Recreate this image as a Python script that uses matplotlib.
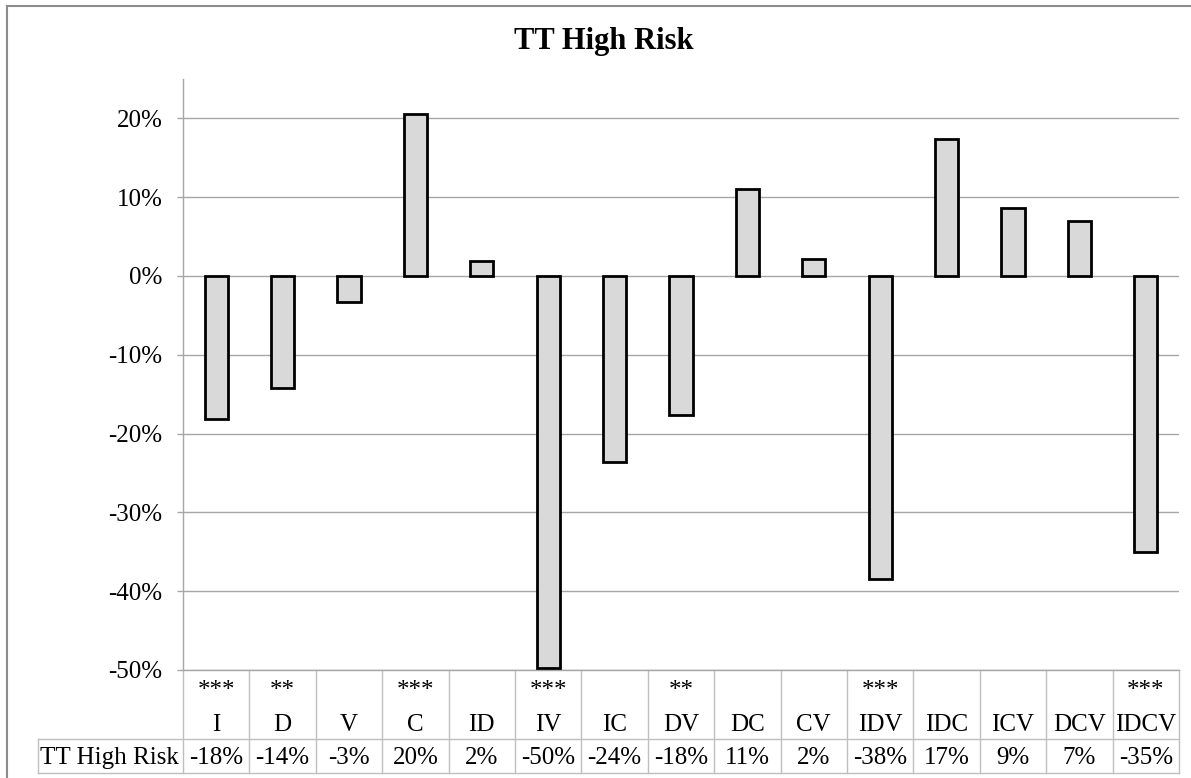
import matplotlib
matplotlib.use("Agg")
import matplotlib.pyplot as plt
import matplotlib.transforms as mtransforms
from matplotlib.lines import Line2D
from matplotlib.ticker import FuncFormatter, MultipleLocator

# data
categories = ["I", "D", "V", "C", "ID", "IV", "IC", "DV", "DC", "CV",
              "IDV", "IDC", "ICV", "DCV", "IDCV"]
significance = ["***", "**", "", "***", "", "***", "", "**", "", "",
                "***", "", "", "", "***"]
tt_high_risk = [-0.182, -0.142, -0.033, 0.205, 0.019, -0.498, -0.236, -0.176,
                0.111, 0.021, -0.384, 0.174, 0.086, 0.070, -0.350]
series_name = "TT High Risk"

W, H = 1191, 778
GRID = "#A6A6A6"
TABLE = "#BFBFBF"

plt.rcParams["font.family"] = ["Liberation Serif", "DejaVu Serif"]


def fx(px):
    return px / W


def fy(py):
    return 1 - py / H


def pct(v):
    v = round(v, 4)
    if abs(v) < 1e-9:
        v = 0.0
    return f"{v:.0%}"


fig = plt.figure(figsize=(W / 100, H / 100), dpi=100)
ax = fig.add_axes([fx(183), fy(670), fx(1179) - fx(183), fy(79) - fy(670)])

x = list(range(len(categories)))
ax.bar(x, tt_high_risk, width=0.35, color="#D9D9D9", edgecolor="black",
       linewidth=2.0, zorder=3)

ax.set_xlim(-0.5, len(categories) - 0.5)
ax.set_ylim(-0.5, 0.25)
ax.yaxis.set_major_locator(MultipleLocator(0.1))
ax.yaxis.set_major_formatter(FuncFormatter(lambda v, _: pct(v)))
ax.grid(axis="y", color=GRID, linewidth=1.0)
ax.set_axisbelow(True)

for side in ("top", "right"):
    ax.spines[side].set_visible(False)
ax.spines["left"].set_color(GRID)
ax.spines["bottom"].set_color(GRID)
ax.spines["left"].set_linewidth(1.0)
ax.spines["bottom"].set_linewidth(1.0)

ax.tick_params(axis="y", direction="out", length=4.3, width=1.0, color=GRID,
               labelsize=18, pad=10.5)
ax.tick_params(axis="x", bottom=False, labelbottom=False)

# data table under the plot
tf = mtransforms.blended_transform_factory(ax.transData, fig.transFigure)
for k in range(len(categories) + 1):
    ax.plot([k - 0.5, k - 0.5], [fy(670), fy(773)], transform=tf,
            color=TABLE, lw=1.0, clip_on=False)

x_right = ax.get_position().x1
for yy in (739, 773):
    fig.add_artist(Line2D([fx(38), x_right], [fy(yy), fy(yy)], color=TABLE, lw=1.0))
fig.add_artist(Line2D([fx(38), fx(38)], [fy(739), fy(773)], color=TABLE, lw=1.0))

for i, cat in enumerate(categories):
    ax.text(i, fy(697), significance[i], transform=tf, ha="center",
            va="baseline", fontsize=18)
    ax.text(i, fy(731), cat, transform=tf, ha="center", va="baseline",
            fontsize=18)
    ax.text(i, fy(764), pct(tt_high_risk[i]), transform=tf, ha="center",
            va="baseline", fontsize=18)

fig.text(fx(109), fy(764), series_name, ha="center", va="baseline", fontsize=18)

fig.text(fx(604), fy(49), "TT High Risk", ha="center", va="baseline",
         fontsize=22, fontweight="bold")

# chart area border
fig.add_artist(Line2D([fx(7), fx(7)], [fy(6), 0], color="#8C8C8C", lw=1.5))
fig.add_artist(Line2D([fx(7), 1], [fy(6), fy(6)], color="#8C8C8C", lw=1.5))

fig.savefig("out.png", dpi=100)
